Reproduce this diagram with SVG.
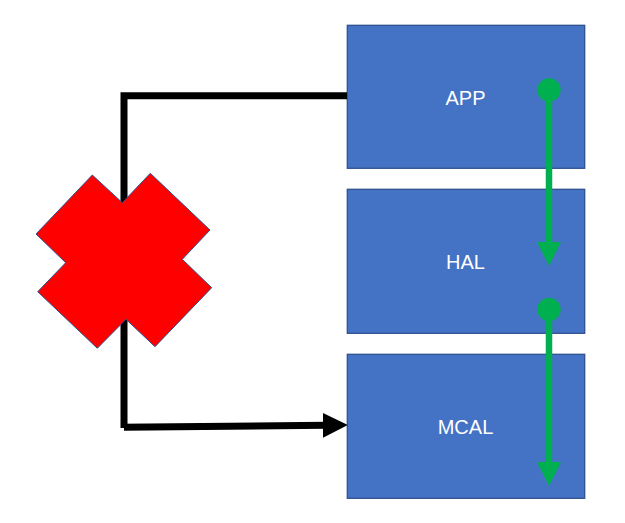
<svg xmlns="http://www.w3.org/2000/svg" width="625" height="523" viewBox="0 0 625 523">
  <style>
    .box { fill: #4472C4; stroke: #2F528F; stroke-width: 1.3; }
    .lbl { fill: #FFFFFF; font-family: "Liberation Sans", Arial, sans-serif; font-size: 20px; text-anchor: middle; }
    .blk { fill: none; stroke: #000000; stroke-width: 7; }
    .grn { fill: none; stroke: #00B050; stroke-width: 6.5; }
  </style>
  <defs>
    <marker id="blkArrow" markerUnits="userSpaceOnUse" markerWidth="25" markerHeight="25" viewBox="0 0 24 24" refX="4" refY="12" orient="auto">
      <path d="M0,0 L24,12 L0,24 Z" fill="#000000"/>
    </marker>
    <marker id="grnArrow" markerUnits="userSpaceOnUse" markerWidth="24" markerHeight="24" viewBox="0 0 24 24" refX="4" refY="12" orient="auto">
      <path d="M0,0 L24,12 L0,24 Z" fill="#00B050"/>
    </marker>
    <marker id="grnDot" markerUnits="userSpaceOnUse" markerWidth="24" markerHeight="24" viewBox="0 0 24 24" refX="12" refY="12" orient="auto">
      <circle cx="12" cy="12" r="11.7" fill="#00B050"/>
    </marker>
  </defs>

  <g id="app">
    <rect class="box" x="347.3" y="25.3" width="237.4" height="143"/>
    <text class="lbl" x="465.5" y="105">APP</text>
  </g>
  <g id="hal">
    <rect class="box" x="347.3" y="189.3" width="237.4" height="144"/>
    <text class="lbl" x="465.5" y="269.3">HAL</text>
  </g>
  <g id="mcal">
    <rect class="box" x="347.3" y="354.3" width="237.4" height="144"/>
    <text class="lbl" x="465.5" y="434.3">MCAL</text>
  </g>

  <g id="connectors">
    <path class="blk" d="M347,95.7 L124,95.7 L124,428 L124,427.3 L327,425.2" marker-end="url(#blkArrow)"/>
    <path class="grn" d="M549,90 L549,246" marker-start="url(#grnDot)" marker-end="url(#grnArrow)"/>
    <path class="grn" d="M549,309.5 L549,466" marker-start="url(#grnDot)" marker-end="url(#grnArrow)"/>
  </g>

  <g id="cross">
    <polygon points="92.3,175 122.3,202.7 150.3,173.3 210,230 182.3,259.3 211.7,287.7 155,346.7 126,319.3 97.3,348.3 37.7,291.7 65.7,262.7 36,234" fill="#FF0000" stroke="#2F528F" stroke-width="1"/>
  </g>
</svg>
